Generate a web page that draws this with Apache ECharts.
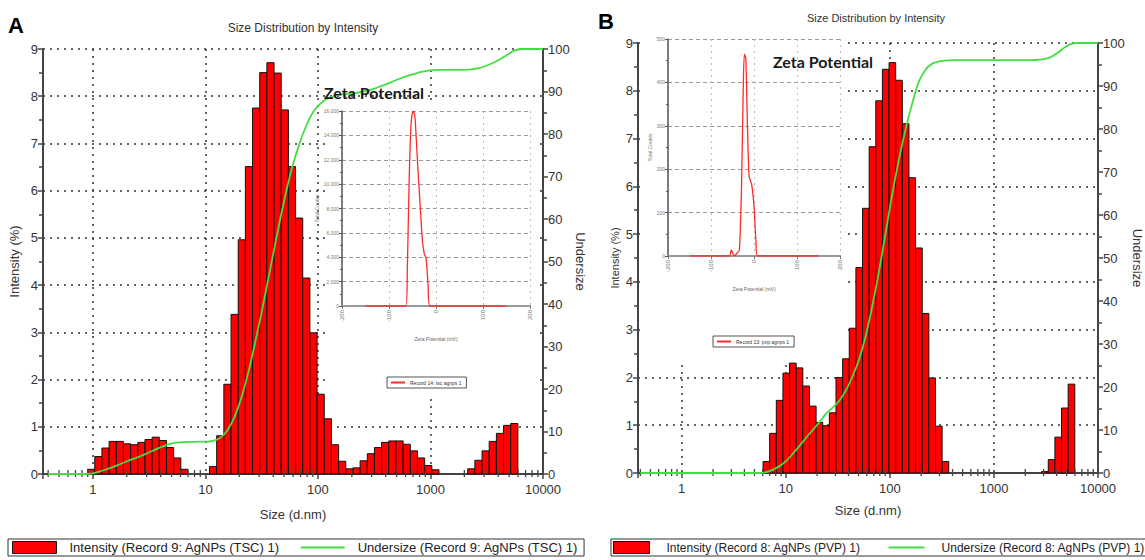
<!DOCTYPE html>
<html>
<head>
<meta charset="utf-8">
<title>Size Distribution by Intensity</title>
<script src="https://cdn.jsdelivr.net/npm/echarts@6/dist/echarts.min.js"></script>
<style>
html, body { margin: 0; padding: 0; background: #fff; }
#main { width: 1145px; height: 560px; }
</style>
</head>
<body>
<div id="main"></div>
<script>
// size classes (d.nm) of the instrument, 70 log-spaced bins
var sizes = [0.4, 0.4632, 0.5365, 0.6213, 0.7195, 0.8332, 0.9649, 1.117, 1.294, 1.499,
    1.736, 2.01, 2.328, 2.696, 3.122, 3.615, 4.187, 4.849, 5.615, 6.503,
    7.531, 8.721, 10.1, 11.7, 13.54, 15.69, 18.17, 21.04, 24.36, 28.21,
    32.67, 37.84, 43.82, 50.75, 58.77, 68.06, 78.82, 91.28, 105.7, 122.4,
    141.8, 164.2, 190.1, 220.2, 255.0, 295.3, 342.0, 396.1, 458.7, 531.2,
    615.1, 712.4, 825.0, 955.4, 1106, 1281, 1484, 1718, 1990, 2305,
    2669, 3091, 3580, 4145, 4801, 5560, 6439, 7456, 8635, 10000];

// minor tick positions on the size axis
var minorTickSizes = [0.4, 0.5, 0.6, 0.7, 0.8, 0.9, 2, 3, 4, 5, 6, 7, 8, 9,
    20, 30, 40, 50, 60, 70, 80, 90, 200, 300, 400, 500, 600, 700, 800, 900,
    2000, 3000, 4000, 5000, 6000, 7000, 8000, 9000];

// panel A : AgNPs (TSC)
var intensityA = [0, 0, 0, 0, 0, 0, 0.1, 0.37, 0.55, 0.69,
    0.69, 0.64, 0.62, 0.67, 0.73, 0.78, 0.71, 0.56, 0.34, 0.1,
    0, 0, 0, 0.16, 0.81, 1.9, 3.38, 4.96, 6.51, 7.75,
    8.5, 8.71, 8.49, 7.71, 6.51, 5.42, 4.15, 2.99, 1.69, 1.17,
    0.62, 0.27, 0.11, 0.13, 0.28, 0.43, 0.56, 0.67, 0.7, 0.7,
    0.63, 0.49, 0.34, 0.18, 0.09, 0, 0, 0, 0, 0.11,
    0.29, 0.49, 0.69, 0.86, 1.03, 1.07, 0, 0, 0, 0];
var undersizeA = [0, 0, 0, 0, 0, 0, 0.1, 0.5, 1.0, 1.6,
    2.3, 3.0, 3.6, 4.3, 5.0, 5.8, 6.5, 7.1, 7.4, 7.5,
    7.55, 7.6, 7.6, 7.8, 8.5, 10.3, 13.5, 18.3, 24.5, 32,
    40, 48.5, 57, 65, 72, 77.5, 82, 85.3, 87.2, 88.4,
    89, 89.3, 89.5, 89.7, 90, 90.4, 91, 91.6, 92.3, 93,
    93.6, 94.1, 94.6, 94.9, 95.1, 95.1, 95.1, 95.1, 95.1, 95.2,
    95.5, 96, 96.7, 97.6, 98.6, 99.6, 100, 100, 100, 100];

// panel B : AgNPs (PVP)
var intensityB = [0, 0, 0, 0, 0, 0, 0, 0, 0, 0,
    0, 0, 0, 0, 0, 0, 0, 0, 0, 0.24,
    0.83, 1.52, 2.09, 2.3, 2.2, 1.82, 1.4, 1.06, 0.99, 1.26,
    2.0, 2.39, 3.03, 4.3, 5.54, 6.83, 7.79, 8.45, 8.59, 8.22,
    7.31, 6.18, 4.71, 3.34, 1.99, 0.98, 0.24, 0, 0, 0,
    0, 0, 0, 0, 0, 0, 0, 0, 0, 0,
    0, 0.03, 0.28, 0.75, 1.36, 1.86, 0, 0, 0, 0];
var undersizeB = [0, 0, 0, 0, 0, 0, 0, 0, 0, 0,
    0, 0, 0, 0, 0, 0, 0, 0, 0, 0.2,
    0.8, 1.6, 2.8, 4.5, 6.3, 8.2, 10.0, 11.8, 13.8, 15.2,
    16.8, 19.2, 22.5, 26.5, 32, 39, 47, 56, 65, 73,
    80, 86, 91, 93.8, 95.2, 95.7, 95.9, 96, 96, 96,
    96, 96, 96, 96, 96, 96, 96, 96, 96, 96,
    96.1, 96.3, 96.8, 97.8, 99, 99.8, 100, 100, 100, 100];

// zeta potential insets (mV, total counts)
var zetaAX = [-150, -64, -61, -57, -53, -49, -45, -41, -37, -33, -29, -25, -21, -17, -13, 150];
var zetaAY = [0, 0, 3000, 10500, 15000, 16000, 15600, 13000, 10300, 7800, 5400, 4300, 3900, 1800, 0, 0];
var zetaBX = [-150, -57, -53, -46, -40, -34, -29, -25, -22.5, -19, -15.5, -11.5, -5.5, 0, 4.5, 8, 150];
var zetaBY = [0, 0, 14, 0, 6, 14, 160, 390, 465, 455, 310, 185, 165, 115, 35, 0, 0];

var FONT = "'Liberation Sans', Arial, sans-serif";
var AXIS_COLOR = '#444';
var dotted = { color: '#333', width: 1.5, type: [2, 5] };

var myChart = echarts.init(document.getElementById('main'), null, { renderer: 'svg' });

// bins: edges halfway (in log) between neighbouring classes
function binData(values) {
    var out = [];
    for (var i = 0; i < sizes.length; i++) {
        if (!values[i]) continue;
        var lo = i > 0 ? Math.sqrt(sizes[i - 1] * sizes[i]) : sizes[i];
        var hi = i < sizes.length - 1 ? Math.sqrt(sizes[i] * sizes[i + 1]) : sizes[i];
        out.push([sizes[i], values[i], lo, hi]);
    }
    return out;
}

function pairs(xs, ys) {
    var out = [];
    for (var i = 0; i < xs.length; i++) out.push([xs[i], ys[i]]);
    return out;
}

function renderBar(params, api) {
    var p0 = api.coord([api.value(2), 0]);
    var p1 = api.coord([api.value(3), api.value(1)]);
    return {
        type: 'rect',
        shape: { x: p0[0], y: p1[1], width: p1[0] - p0[0], height: p0[1] - p1[1] },
        style: { fill: '#ff0000', stroke: '#111', lineWidth: 1 }
    };
}

// small tick crossing the size axis
function renderMinorTick(params, api) {
    var p = api.coord([api.value(0), 0]);
    return {
        type: 'line',
        shape: { x1: p[0], y1: p[1] - 4, x2: p[0], y2: p[1] + 3 },
        style: { stroke: AXIS_COLOR, lineWidth: 1.3 }
    };
}

function mainX(gi, min, gap) {
    return {
        type: 'log', logBase: 10, gridIndex: gi, min: min, max: 10000,
        axisLine: { show: true, onZero: false, lineStyle: { color: AXIS_COLOR, width: 2 } },
        axisTick: { show: true, length: 5, lineStyle: { color: AXIS_COLOR, width: 1.5 } },
        axisLabel: {
            margin: 9, color: '#333', fontFamily: FONT, fontSize: 13,
            formatter: function (v) { return v < 0.99 ? '' : String(Math.round(v)); }
        },
        splitLine: { show: true, lineStyle: dotted },
        name: 'Size (d.nm)', nameLocation: 'middle', nameGap: gap,
        nameTextStyle: { color: '#333', fontFamily: FONT, fontSize: 13 }
    };
}

function leftY(gi, gap, fs) {
    return {
        type: 'value', gridIndex: gi, min: 0, max: 9, interval: 1, position: 'left',
        axisLine: { show: true, onZero: false, lineStyle: { color: AXIS_COLOR, width: 2 } },
        axisTick: { show: true, length: 5, lineStyle: { color: AXIS_COLOR, width: 1.5 } },
        minorTick: { show: true, splitNumber: 2, length: 4, lineStyle: { color: AXIS_COLOR, width: 1.5 } },
        axisLabel: { margin: 5, color: '#333', fontFamily: FONT, fontSize: 13 },
        splitLine: { show: true, lineStyle: dotted },
        name: 'Intensity (%)', nameLocation: 'middle', nameGap: gap, nameRotate: 90,
        nameTextStyle: { color: '#333', fontFamily: FONT, fontSize: fs }
    };
}

function rightY(gi, gap) {
    return {
        type: 'value', gridIndex: gi, min: 0, max: 100, interval: 10, position: 'right',
        axisLine: { show: true, onZero: false, lineStyle: { color: AXIS_COLOR, width: 2 } },
        axisTick: { show: true, length: 5, lineStyle: { color: AXIS_COLOR, width: 1.5 } },
        minorTick: { show: true, splitNumber: 2, length: 4, lineStyle: { color: AXIS_COLOR, width: 1.5 } },
        axisLabel: { margin: 5, color: '#333', fontFamily: FONT, fontSize: 13 },
        splitLine: { show: false },
        name: 'Undersize', nameLocation: 'middle', nameGap: gap, nameRotate: -90,
        nameTextStyle: { color: '#333', fontFamily: FONT, fontSize: 13 }
    };
}

function insetX(gi, gap) {
    return {
        type: 'value', gridIndex: gi, min: -200, max: 200, interval: 100, z: 5,
        axisLine: { show: true, onZero: false, lineStyle: { color: '#999', width: 2 } },
        axisTick: { show: true, length: 3, lineStyle: { color: '#777' } },
        axisLabel: { rotate: 90, margin: 4, color: '#777', fontSize: 6 },
        splitLine: { show: true, lineStyle: { color: '#bbb', type: [2, 4] } },
        name: 'Zeta Potential (mV)', nameLocation: 'middle', nameGap: gap,
        nameTextStyle: { color: '#666', fontSize: 5 }
    };
}

function insetY(gi, max, interval, gap) {
    return {
        type: 'value', gridIndex: gi, min: 0, max: max, interval: interval, z: 5,
        axisLine: { show: true, onZero: false, lineStyle: { color: '#555', width: 1.5 } },
        axisTick: { show: true, length: 3, lineStyle: { color: '#555' } },
        minorTick: { show: true, splitNumber: 2, length: 2, lineStyle: { color: '#555' } },
        axisLabel: { margin: 3, color: '#777', fontSize: 5, formatter: '{value}' },
        splitLine: { show: true, lineStyle: { color: '#999', type: [4, 3] } },
        name: 'Total Counts', nameLocation: 'middle', nameGap: gap, nameRotate: 90,
        nameTextStyle: { color: '#777', fontSize: 5 }
    };
}

var lineIconStyle = { color: 'rgba(0,0,0,0)', borderWidth: 0 };

function mainLegend(left, sw, gap, pad, textPad, fs, names) {
    return {
        left: left, top: 539, width: 620, orient: 'horizontal',
        itemWidth: sw, itemHeight: 12, itemGap: gap, padding: pad,
        borderColor: '#333', borderWidth: 1,
        textStyle: { fontFamily: FONT, fontSize: fs, color: '#222', padding: [0, 0, 0, textPad] },
        data: [
            { name: names[0], icon: 'rect', itemStyle: { color: '#ff0000', borderColor: '#111', borderWidth: 1 } },
            { name: names[1], itemStyle: lineIconStyle }
        ]
    };
}

function insetLegend(left, top, name) {
    return {
        left: left, top: top, itemWidth: 14, itemHeight: 4, padding: [3, 5, 3, 3],
        borderColor: '#555', borderWidth: 1,
        textStyle: { fontSize: 5, color: '#333' },
        data: [{ name: name, itemStyle: lineIconStyle }]
    };
}

var nameA = ['Intensity (Record 9: AgNPs (TSC) 1)', 'Undersize (Record 9: AgNPs (TSC) 1)'];
var nameB = ['Intensity (Record 8: AgNPs (PVP) 1)', 'Undersize (Record 8: AgNPs (PVP) 1)'];
var zetaNameA = 'Record 14: tsc agnps 1';
var zetaNameB = 'Record 13: pvp agnps 1';

function minorTickSeries(xi, yi) {
    return {
        type: 'custom', xAxisIndex: xi, yAxisIndex: yi,
        renderItem: renderMinorTick, encode: { x: 0, y: 1 },
        data: minorTickSizes.map(function (s) { return [s, 0]; })
    };
}

var option = {
    backgroundColor: '#fff',
    animation: false,
    grid: [
        { left: 43, top: 49, width: 500, height: 425 },
        { left: 342, top: 111, width: 188, height: 195 },
        { left: 638, top: 43, width: 464, height: 430 },
        { left: 668, top: 39, width: 172, height: 217 }
    ],
    xAxis: [
        mainX(0, 0.36, 34),
        insetX(1, 30),
        mainX(2, 0.38, 31),
        insetX(3, 30)
    ],
    yAxis: [
        leftY(0, 22, 13),
        rightY(0, 30),
        insetY(1, 16000, 2000, 20),
        leftY(2, 18, 11),
        rightY(2, 33),
        insetY(3, 500, 100, 14)
    ],
    legend: [
        mainLegend(8, 44, 20, [2, 6, 2, 4], 8, 13, nameA),
        mainLegend(611, 36, 27, [2, 4, 2, 2], 12, 12, nameB),
        insetLegend(387, 377, zetaNameA),
        insetLegend(713, 336, zetaNameB)
    ],
    graphic: [
        { type: 'rect', z: 1, shape: { x: 330, y: 100, width: 210, height: 298 }, style: { fill: '#fff' } },
        { type: 'rect', z: 1, shape: { x: 641, y: 37, width: 203, height: 323 }, style: { fill: '#fff' } },
        { type: 'text', z: 10, x: 8, y: 25, style: { text: 'A', font: 'bold 22px "Liberation Sans", sans-serif', fill: '#000', textVerticalAlign: 'middle' } },
        { type: 'text', z: 10, x: 598, y: 21, style: { text: 'B', font: 'bold 22px "Liberation Sans", sans-serif', fill: '#000', textVerticalAlign: 'middle' } },
        { type: 'text', z: 10, x: 303, y: 28, style: { text: 'Size Distribution by Intensity', font: '12px "Liberation Sans", sans-serif', fill: '#333', textAlign: 'center', textVerticalAlign: 'middle' } },
        { type: 'text', z: 10, x: 876, y: 18, style: { text: 'Size Distribution by Intensity', font: '11px "Liberation Sans", sans-serif', fill: '#333', textAlign: 'center', textVerticalAlign: 'middle' } },
        { type: 'text', z: 10, x: 324, y: 92, style: { text: 'Zeta Potential', font: 'bold 16px Lato, sans-serif', fill: '#1a1a1a', textVerticalAlign: 'middle' } },
        { type: 'text', z: 10, x: 773, y: 61, style: { text: 'Zeta Potential', font: 'bold 16px Lato, sans-serif', fill: '#1a1a1a', textVerticalAlign: 'middle' } }
    ],
    series: [
        {
            name: nameA[0], type: 'custom', xAxisIndex: 0, yAxisIndex: 0, z: 2,
            renderItem: renderBar, encode: { x: 0, y: 1 },
            itemStyle: { color: '#ff0000' },
            data: binData(intensityA)
        },
        {
            name: nameA[1], type: 'line', xAxisIndex: 0, yAxisIndex: 1, z: 3,
            smooth: 0.3, symbol: 'none', lineStyle: { color: '#44dd44', width: 1.8 }, itemStyle: { color: '#44dd44' },
            data: pairs(sizes, undersizeA)
        },
        minorTickSeries(0, 0),
        {
            name: zetaNameA, type: 'line', xAxisIndex: 1, yAxisIndex: 2, z: 6,
            smooth: 0.2, symbol: 'none', lineStyle: { color: '#ff2a2a', width: 1.3 }, itemStyle: { color: '#ff2a2a' },
            data: pairs(zetaAX, zetaAY)
        },
        {
            name: nameB[0], type: 'custom', xAxisIndex: 2, yAxisIndex: 3, z: 2,
            renderItem: renderBar, encode: { x: 0, y: 1 },
            itemStyle: { color: '#ff0000' },
            data: binData(intensityB)
        },
        {
            name: nameB[1], type: 'line', xAxisIndex: 2, yAxisIndex: 4, z: 3,
            smooth: 0.3, symbol: 'none', lineStyle: { color: '#44dd44', width: 1.8 }, itemStyle: { color: '#44dd44' },
            data: pairs(sizes, undersizeB)
        },
        minorTickSeries(2, 3),
        {
            name: zetaNameB, type: 'line', xAxisIndex: 3, yAxisIndex: 5, z: 6,
            smooth: 0.2, symbol: 'none', lineStyle: { color: '#ff2a2a', width: 1.3 }, itemStyle: { color: '#ff2a2a' },
            data: pairs(zetaBX, zetaBY)
        }
    ]
};
myChart.setOption(option);
</script>
</body>
</html>
